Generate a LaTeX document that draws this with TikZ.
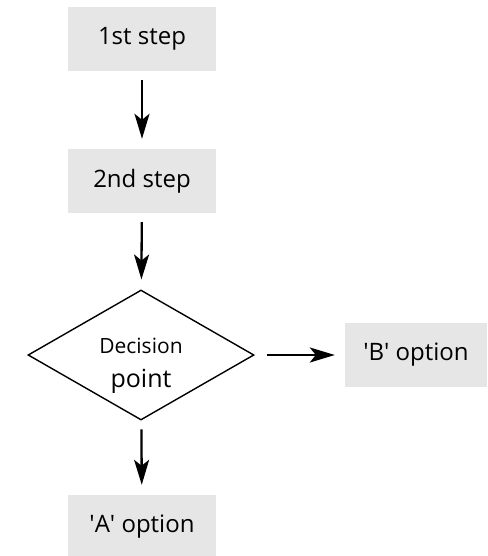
\documentclass[tikz,border=0pt]{standalone}
\usepackage{fontspec}
\setmainfont{Open Sans}
\usepackage{xcolor}
\usetikzlibrary{positioning,arrows.meta,shapes.geometric}
\definecolor{boxgray}{HTML}{E6E6E6}
\tikzset{
stepbox/.style={fill=boxgray, minimum width=148pt, minimum height=64pt, inner sep=0pt, font=\fontsize{24}{28}\selectfont},
decision/.style={diamond, draw, line width=1.4pt, minimum width=226pt, minimum height=130pt, inner sep=0pt},
flow/.style={-{Stealth[length=25pt,width=15pt,inset=6pt]}, line width=2.3pt, shorten <=9pt, shorten >=10pt}
}
\newcommand{\sq}{\textquotesingle}
\begin{document}
\begin{tikzpicture}[x=1pt,y=-1pt]
\useasboundingbox (0,0) rectangle (487,556);
\node[stepbox] (first) at (142,39) {1st step};
\node[stepbox] (second) at (142,181) {2nd step};
\node[decision, label={[align=center, yshift=-11pt]center:{\fontsize{21}{24}\selectfont Decision}\\[14pt]{\fontsize{25}{28}\selectfont point}}] (dec) at (141,355) {};
\node[stepbox] (optA) at (142,527) {\sq A\sq{} option};
\node[stepbox, minimum width=142pt] (optB) at (416,355) {\sq B\sq{} option};

\draw[flow] (first) -- (second);
\draw[flow] (second) -- (dec);
\draw[flow] (dec) -- (optA);
\draw[flow, shorten <=12pt] (dec) -- (optB);
\end{tikzpicture}
\end{document}
